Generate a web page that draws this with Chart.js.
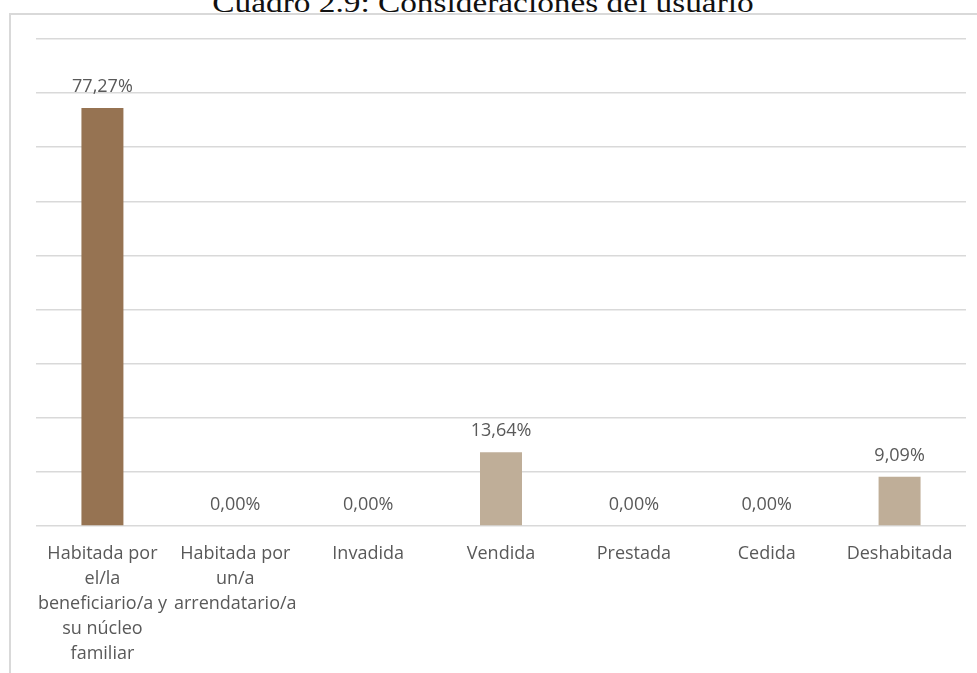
<!DOCTYPE html>
<html>
<head>
<meta charset="utf-8">
<script src="https://cdn.jsdelivr.net/npm/chart.js@4"></script>
<style>
  html, body { margin: 0; padding: 0; background: #fff; }
  body { width: 977px; height: 673px; position: relative; overflow: hidden; }
  #frame {
    position: absolute; left: 9px; top: 13px; right: 0; bottom: 0;
    border-left: 2px solid #d9d9d9; border-top: 2px solid #d9d9d9;
  }
  #title {
    position: absolute; left: 0; width: 966px; top: -11px;
    text-align: center; font-family: "Liberation Serif", serif;
    font-size: 28px; line-height: 28px; color: #111;
    transform: scaleX(1.19); transform-origin: 483px 0;
  }
  #wrap { position: absolute; left: 0; top: 0; width: 977px; height: 673px; }
</style>
</head>
<body>
<div id="frame"></div>
<div id="title">Cuadro 2.9: Consideraciones del usuario</div>
<div id="wrap"><canvas id="chart"></canvas></div>
<script>
// data (percent)
const categories = [
  ["Habitada por", "el/la", "beneficiario/a y", "su núcleo", "familiar"],
  ["Habitada por", "un/a", "arrendatario/a"],
  "Invadida",
  "Vendida",
  "Prestada",
  "Cedida",
  "Deshabitada"
];
const values = [77.27, 0, 0, 13.64, 0, 0, 9.09];
const yTicks = [0, 10, 20, 30, 40, 50, 60, 70, 80, 90];

const fontFamily = '"Open Sans", Lato, sans-serif';
const textColor = "#595959";

// percent labels above every bar, e.g. 77,27%
const valueLabels = {
  id: "valueLabels",
  afterDatasetsDraw(chart) {
    const ctx = chart.ctx;
    const meta = chart.getDatasetMeta(0);
    ctx.save();
    ctx.font = "18px " + fontFamily;
    ctx.fillStyle = textColor;
    ctx.textAlign = "center";
    ctx.textBaseline = "middle";
    meta.data.forEach((bar, i) => {
      const txt = values[i].toFixed(2).replace(".", ",") + "%";
      ctx.fillText(txt, bar.x, bar.y - 21);
    });
    ctx.restore();
  }
};

const ctx = document.getElementById("chart").getContext("2d");
const chart = new Chart(ctx, {
  type: "bar",
  data: {
    labels: categories,
    datasets: [{
      data: values,
      backgroundColor: values.map((v, i) => i === 0 ? "#967352" : "#bfae98"),
      borderWidth: 0,
      barPercentage: 0.316,
      categoryPercentage: 1
    }]
  },
  options: {
    responsive: true,
    maintainAspectRatio: false,
    animation: false,
    layout: { padding: { left: 36, right: 11, top: 39, bottom: 0 } },
    plugins: {
      legend: { display: false },
      tooltip: { enabled: false }
    },
    scales: {
      x: {
        grid: { display: false, drawTicks: false },
        border: { display: false },
        ticks: {
          autoSkip: false,
          maxRotation: 0,
          padding: 15,
          color: textColor,
          font: { family: fontFamily, size: 18, lineHeight: 25 / 18 }
        },
        afterFit(scale) { scale.height = 147; }
      },
      y: {
        min: 0,
        max: yTicks[yTicks.length - 1],
        afterBuildTicks(scale) { scale.ticks = yTicks.map(v => ({ value: v })); },
        grid: { color: "#d9d9d9", lineWidth: 1.5, drawTicks: false },
        border: { display: false },
        ticks: { display: false }
      }
    }
  },
  plugins: [valueLabels]
});
</script>
</body>
</html>
